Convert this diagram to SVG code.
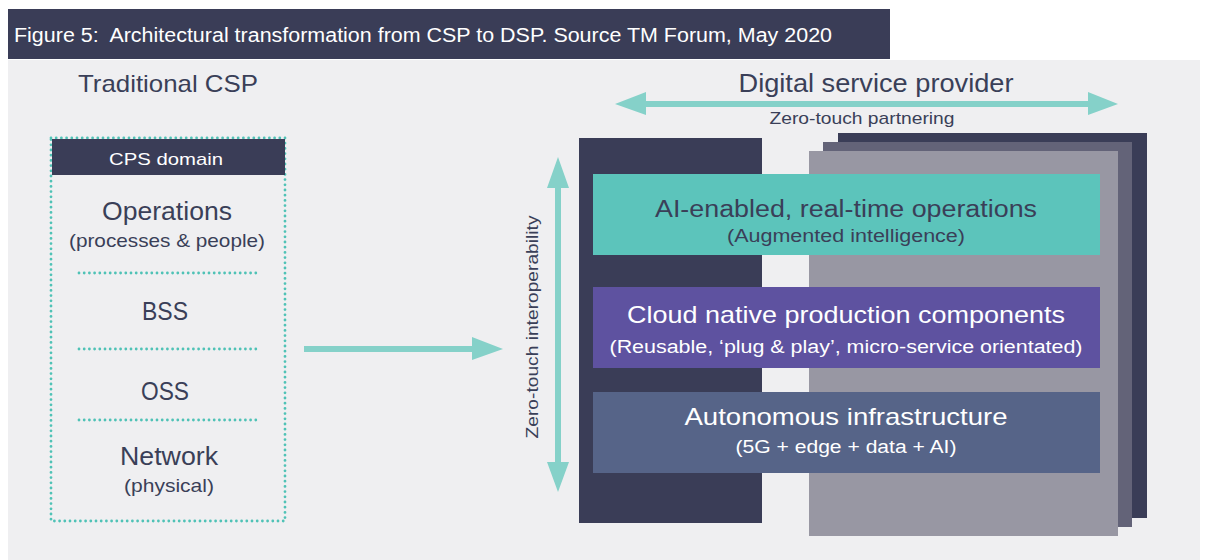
<svg xmlns="http://www.w3.org/2000/svg" width="1208" height="560" viewBox="0 0 1208 560">
  <defs>
    <style>
      .t { font-family: "Liberation Sans", Arial, sans-serif; }
      .dark { fill: #3a3f58; }
      .white { fill: #ffffff; }
      .dots { stroke: #4fc2b6; stroke-width: 2.8; stroke-linecap: round; stroke-dasharray: 0 5.2; fill: none; }
      .flow { fill: #85d1c9; }
    </style>
  </defs>

  <!-- page background -->
  <rect x="0" y="0" width="1208" height="560" fill="#ffffff"/>
  <rect x="8" y="60" width="1192" height="500" fill="#efeff1"/>

  <!-- caption bar -->
  <g id="caption">
    <rect x="8" y="9" width="882" height="50" fill="#3a3d57"/>
    <text class="t white" x="14" y="42" font-size="20" xml:space="preserve" textLength="818" lengthAdjust="spacingAndGlyphs">Figure 5:  Architectural transformation from CSP to DSP. Source TM Forum, May 2020</text>
  </g>

  <!-- left: traditional CSP stack -->
  <g id="csp-title">
    <text class="t dark" x="78" y="92" font-size="24" textLength="180" lengthAdjust="spacingAndGlyphs">Traditional CSP</text>
  </g>

  <g id="cps-domain">
    <rect class="dots" x="51" y="138" width="234" height="383"/>
    <rect x="52" y="139" width="233" height="36" fill="#3a3d57"/>
    <text class="t white" x="166" y="165" font-size="17" text-anchor="middle" textLength="114" lengthAdjust="spacingAndGlyphs">CPS domain</text>

    <text class="t dark" x="167" y="220" font-size="25" text-anchor="middle" textLength="130" lengthAdjust="spacingAndGlyphs">Operations</text>
    <text class="t dark" x="167" y="247" font-size="19" text-anchor="middle" textLength="196" lengthAdjust="spacingAndGlyphs">(processes &amp; people)</text>
    <line class="dots" x1="79" y1="273" x2="260" y2="273"/>

    <text class="t dark" x="165" y="320" font-size="25" text-anchor="middle" textLength="46" lengthAdjust="spacingAndGlyphs">BSS</text>
    <line class="dots" x1="79" y1="349" x2="260" y2="349"/>

    <text class="t dark" x="165" y="400" font-size="25" text-anchor="middle" textLength="48" lengthAdjust="spacingAndGlyphs">OSS</text>
    <line class="dots" x1="79" y1="420" x2="260" y2="420"/>

    <text class="t dark" x="169" y="465" font-size="25" text-anchor="middle" textLength="98" lengthAdjust="spacingAndGlyphs">Network</text>
    <text class="t dark" x="169" y="492" font-size="19" text-anchor="middle" textLength="90" lengthAdjust="spacingAndGlyphs">(physical)</text>
  </g>

  <!-- right: digital service provider -->
  <g id="dsp-title">
    <text class="t dark" x="876" y="92" font-size="26" text-anchor="middle" textLength="275" lengthAdjust="spacingAndGlyphs">Digital service provider</text>
  </g>

  <g id="dsp-panels">
    <rect x="838" y="133" width="309" height="385" fill="#3a3d57"/>
    <rect x="823" y="142" width="309" height="385" fill="#636378"/>
    <rect x="809" y="151" width="309" height="385" fill="#9897a3"/>
    <rect x="579" y="138" width="183" height="385" fill="#3a3d57"/>
  </g>

  <g id="layer-ai">
    <rect x="593" y="174" width="507" height="81" fill="#5cc4bb"/>
    <text class="t dark" x="846" y="217" font-size="23" text-anchor="middle" textLength="382" lengthAdjust="spacingAndGlyphs">AI-enabled, real-time operations</text>
    <text class="t dark" x="846" y="242" font-size="18" text-anchor="middle" textLength="238" lengthAdjust="spacingAndGlyphs">(Augmented intelligence)</text>
  </g>

  <g id="layer-cloud">
    <rect x="593" y="287" width="507" height="81" fill="#5e52a0"/>
    <text class="t white" x="846" y="323" font-size="24" text-anchor="middle" textLength="438" lengthAdjust="spacingAndGlyphs">Cloud native production components</text>
    <text class="t white" x="846" y="353" font-size="18" text-anchor="middle" textLength="473" lengthAdjust="spacingAndGlyphs">(Reusable, ‘plug &amp; play’, micro-service orientated)</text>
  </g>

  <g id="layer-infra">
    <rect x="593" y="392" width="507" height="81" fill="#566488"/>
    <text class="t white" x="846" y="425" font-size="24" text-anchor="middle" textLength="323" lengthAdjust="spacingAndGlyphs">Autonomous infrastructure</text>
    <text class="t white" x="846" y="453" font-size="18" text-anchor="middle" textLength="221" lengthAdjust="spacingAndGlyphs">(5G + edge + data + AI)</text>
  </g>

  <!-- connectors -->
  <g id="connectors">
    <!-- CSP to DSP -->
    <polygon class="flow" points="304,346 472,346 472,337 503,349 472,360 472,352 304,352"/>
    <!-- zero-touch partnering -->
    <polygon class="flow" points="615,104 646,92 646,101 1088,101 1088,92 1118,104 1088,115 1088,107 646,107 646,115"/>
    <!-- zero-touch interoperability -->
    <polygon class="flow" points="558,157 569,188 561,188 561,462 569,462 558,492 547,462 555,462 555,188 547,188"/>
  </g>

  <g id="connector-labels">
    <text class="t dark" x="862" y="124" font-size="17" text-anchor="middle" textLength="185" lengthAdjust="spacingAndGlyphs">Zero-touch partnering</text>
    <text class="t dark" transform="translate(538,327) rotate(-90)" x="0" y="0" font-size="17" text-anchor="middle" textLength="223" lengthAdjust="spacingAndGlyphs">Zero-touch interoperability</text>
  </g>
</svg>
